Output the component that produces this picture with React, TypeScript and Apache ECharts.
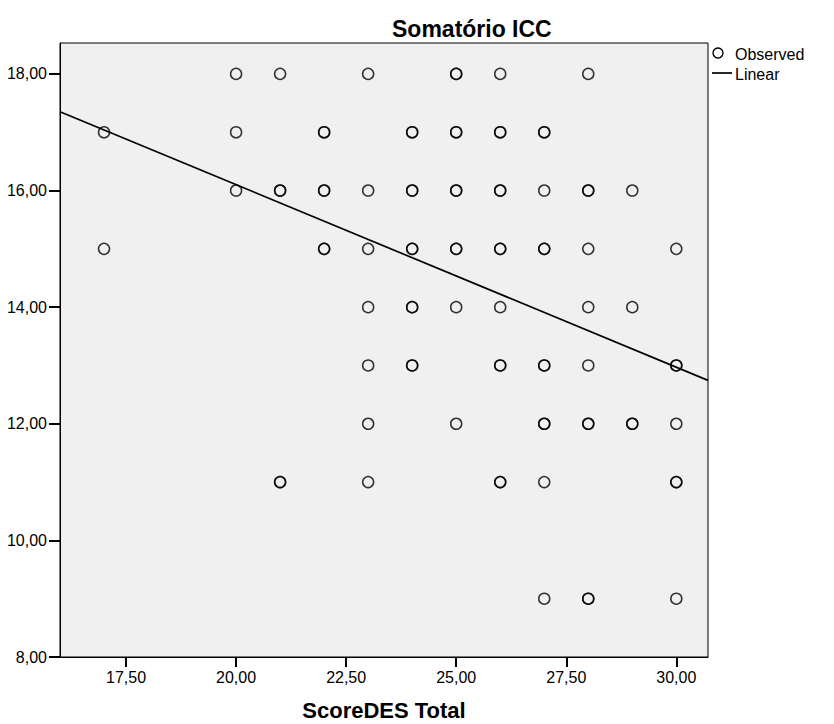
import React, { useEffect, useRef } from "react";
import * as echarts from "echarts";

// Observations (duplicates drawn twice, as in the reference where repeated cases look bolder)
const scoreDES: number[] = [
  20, 21, 23, 25, 25, 26, 28,
  17, 20, 22, 22, 24, 24, 25, 25, 26, 26, 27, 27,
  20, 21, 21, 22, 22, 23, 24, 24, 25, 25, 26, 26, 27, 28, 28, 29,
  17, 22, 22, 23, 24, 24, 25, 25, 26, 26, 27, 27, 28, 30,
  23, 24, 24, 25, 26, 28, 29,
  23, 24, 24, 26, 26, 27, 27, 28, 30, 30,
  23, 25, 27, 27, 28, 28, 29, 29, 30,
  21, 21, 23, 26, 26, 27, 30, 30,
  27, 28, 28, 30,
];
const somatorioICC: number[] = [
  18, 18, 18, 18, 18, 18, 18,
  17, 17, 17, 17, 17, 17, 17, 17, 17, 17, 17, 17,
  16, 16, 16, 16, 16, 16, 16, 16, 16, 16, 16, 16, 16, 16, 16, 16,
  15, 15, 15, 15, 15, 15, 15, 15, 15, 15, 15, 15, 15, 15,
  14, 14, 14, 14, 14, 14, 14,
  13, 13, 13, 13, 13, 13, 13, 13, 13, 13,
  12, 12, 12, 12, 12, 12, 12, 12, 12,
  11, 11, 11, 11, 11, 11, 11, 11,
  9, 9, 9, 9,
];

// Linear fit
const fitIntercept = 22.36;
const fitSlope = -0.313;

const xMin = 16;
const xMax = 30.72;
const yMin = 8;
const yMax = 18.53;
const xTicks: number[] = [17.5, 20, 22.5, 25, 27.5, 30];
const yTicks: number[] = [8, 10, 12, 14, 16, 18];

const FONT = "'Liberation Sans', Arial, sans-serif";
const fmt = (v: number) => v.toFixed(2).replace(".", ",");

export default function App() {
  const ref = useRef<HTMLDivElement>(null);
  useEffect(() => {
    if (!ref.current) return;
    const chart = echarts.init(ref.current, null, { renderer: "svg" });
    const points = scoreDES.map((x, i) => [x, somatorioICC[i]]);
    const fitLine = [xMin, xMax].map((x) => [x, fitIntercept + fitSlope * x]);
    chart.setOption({
      animation: false,
      backgroundColor: "#ffffff",
      textStyle: { fontFamily: FONT },
      title: {
        text: "Somatório ICC",
        left: 387,
        top: 12,
        textStyle: { fontFamily: FONT, fontSize: 23, fontWeight: "bold", color: "#000" },
      },
      grid: {
        left: 60,
        right: 126,
        top: 43,
        bottom: 67,
        outerBoundsMode: "none",
        containLabel: false,
        show: true,
        backgroundColor: "#f0f0f0",
        borderColor: "#000",
        borderWidth: 1,
      },
      xAxis: {
        type: "value",
        min: xMin,
        max: xMax,
        name: "ScoreDES Total",
        nameLocation: "middle",
        nameGap: 53,
        nameTextStyle: { fontFamily: FONT, fontSize: 22, fontWeight: "bold", color: "#000", verticalAlign: "middle" },
        axisLine: { show: true, lineStyle: { color: "#000", width: 1 } },
        axisTick: { show: true, length: 10, customValues: xTicks, lineStyle: { color: "#000", width: 2 } },
        axisLabel: {
          customValues: xTicks,
          formatter: fmt,
          fontFamily: FONT,
          fontSize: 16,
          color: "#000",
          margin: 12,
        },
        splitLine: { show: false },
      },
      yAxis: {
        type: "value",
        min: yMin,
        max: yMax,
        axisLine: { show: true, lineStyle: { color: "#000", width: 1 } },
        axisTick: { show: true, length: 11, customValues: yTicks, lineStyle: { color: "#000", width: 2 } },
        axisLabel: {
          customValues: yTicks,
          formatter: fmt,
          fontFamily: FONT,
          fontSize: 16,
          color: "#000",
          margin: 13,
        },
        splitLine: { show: false },
      },
      series: [
        {
          name: "Observed",
          type: "scatter",
          data: points,
          symbol: "circle",
          symbolSize: 11,
          itemStyle: { color: "rgba(0,0,0,0)", borderColor: "#000", borderWidth: 1.5 },
          z: 3,
        },
        {
          name: "Linear",
          type: "line",
          data: fitLine,
          showSymbol: false,
          lineStyle: { color: "#000", width: 1.7 },
          z: 2,
        },
      ],
      graphic: [
        {
          type: "circle",
          shape: { cx: 718, cy: 53, r: 5 },
          style: { fill: "none", stroke: "#000", lineWidth: 1.4 },
        },
        {
          type: "text",
          x: 735,
          y: 54,
          style: { text: "Observed", font: `16px ${FONT}`, fill: "#000", textVerticalAlign: "middle" },
        },
        {
          type: "line",
          shape: { x1: 712, y1: 73, x2: 732, y2: 73 },
          style: { stroke: "#000", lineWidth: 1.7 },
        },
        {
          type: "text",
          x: 735,
          y: 74,
          style: { text: "Linear", font: `16px ${FONT}`, fill: "#000", textVerticalAlign: "middle" },
        },
      ],
    });
    return () => chart.dispose();
  }, []);
  return (
    <div
      ref={ref}
      style={{ position: "fixed", left: 0, top: 0, width: 834, height: 724, background: "#fff" }}
    />
  );
}
